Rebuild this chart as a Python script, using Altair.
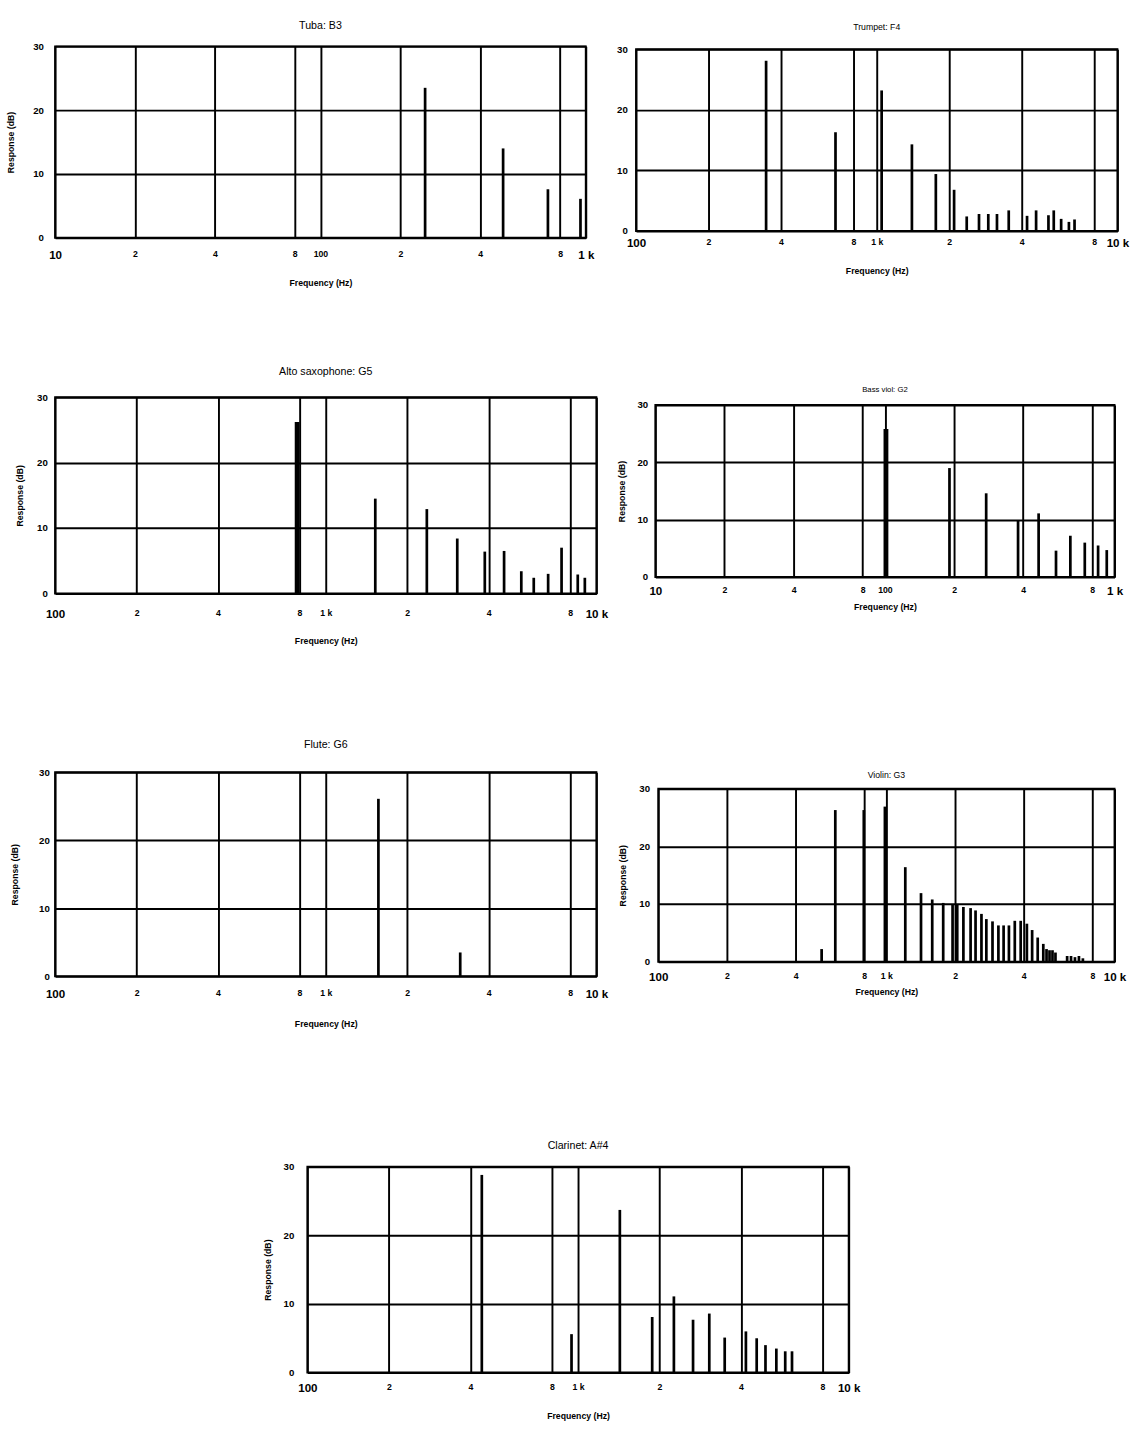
import altair as alt
import pandas as pd

FONT = "Liberation Sans"

LOW_TICKS = [10, 20, 40, 80, 100, 200, 400, 800, 1000]
LOW_LABELS = ["10", "2", "4", "8", "100", "2", "4", "8", "1 k"]
HIGH_TICKS = [100, 200, 400, 800, 1000, 2000, 4000, 8000, 10000]
HIGH_LABELS = ["100", "2", "4", "8", "1 k", "2", "4", "8", "10 k"]
Y_TICKS = [0, 10, 20, 30]

TUBA_TITLE = "Tuba: B3"
TUBA_FREQ = [248, 488, 720, 955]
TUBA_DB = [23.5, 14.0, 7.6, 6.1]

TRUMPET_TITLE = "Trumpet: F4"
TRUMPET_FREQ = [347, 674, 1048, 1400, 1760, 2096, 2365, 2660, 2907, 3159, 3535,
                4212, 4593, 5169, 5438, 5836, 6287, 6634]
TRUMPET_DB = [28.1, 16.3, 23.2, 14.3, 9.4, 6.8, 2.4, 2.8, 2.8, 2.8, 3.4,
              2.5, 3.4, 2.6, 3.4, 2.0, 1.5, 1.9]

SAX_TITLE = "Alto saxophone: G5"
SAX_FREQ = [784, 1524, 2363, 3061, 3869, 4559, 5278, 5868, 6632, 7434, 8532, 9062]
SAX_DB = [26.2, 14.5, 12.9, 8.4, 6.4, 6.5, 3.4, 2.4, 3.0, 7.0, 2.9, 2.4]

BASS_TITLE = "Bass viol: G2"
BASS_FREQ = [101, 191, 276, 380, 467, 556, 642, 742, 848, 925]
BASS_DB = [25.8, 19.0, 14.6, 9.8, 11.1, 4.6, 7.2, 6.0, 5.5, 4.7]

FLUTE_TITLE = "Flute: G6"
FLUTE_FREQ = [1565, 3139]
FLUTE_DB = [26.1, 3.5]

VIOLIN_TITLE = "Violin: G3"
VIOLIN_FREQ = [520, 597, 796, 985, 1210, 1418, 1588, 1774, 1950, 2044, 2175, 2339,
               2459, 2610, 2742, 2918, 3097, 3264, 3444, 3654, 3878, 4128, 4353,
               4605, 4872, 5034, 5188, 5346, 5509, 6198, 6446, 6707, 6982, 7265]
VIOLIN_DB = [2.2, 26.3, 26.3, 26.9, 16.4, 11.9, 10.8, 10.2, 10.0, 9.9, 9.5, 9.3,
             8.9, 8.3, 7.4, 7.0, 6.3, 6.3, 6.3, 7.1, 7.1, 6.6, 5.5,
             4.2, 3.1, 2.2, 2.0, 2.0, 1.6, 1.0, 1.0, 0.8, 1.0, 0.6]

CLAR_TITLE = "Clarinet: A#4"
CLAR_FREQ = [441, 946, 1427, 1879, 2260, 2660, 3054, 3482, 4170, 4571, 4926, 5403,
             5827, 6173]
CLAR_DB = [28.8, 5.6, 23.7, 8.1, 11.1, 7.7, 8.6, 5.1, 6.0, 5.0, 4.0, 3.5, 3.1, 3.1]


def label_expr(ticks, labels):
    expr = "''"
    for t, l in reversed(list(zip(ticks, labels))):
        expr = f"datum.value == {t} ? '{l}' : ({expr})"
    return expr


def panel(title, freqs, dbs, ticks, labels, w, h, title_size, title_offset,
          xlab_pad, xtitle_pad, ylab_pad, ytitle_pad, ytitle=True, thick=False):
    df = pd.DataFrame({"f": freqs, "db": dbs})
    big = f"datum.value == {ticks[0]} || datum.value == {ticks[-1]}"
    x = alt.X(
        "f:Q",
        scale=alt.Scale(type="log", domain=[ticks[0], ticks[-1]], nice=False),
        axis=alt.Axis(
            values=ticks, labelExpr=label_expr(ticks, labels),
            title="Frequency (Hz)", grid=True, ticks=False, domain=False,
            labelOverlap=False, labelFlush=False, labelPadding=xlab_pad,
            titlePadding=xtitle_pad,
            labelFontSize={"condition": {"test": big, "value": 12}, "value": 9},
        ),
    )
    y = alt.Y(
        "db:Q",
        scale=alt.Scale(domain=[0, 30], nice=False),
        axis=alt.Axis(
            values=Y_TICKS, title="Response (dB)" if ytitle else None, grid=True,
            ticks=False, domain=False, labelPadding=ylab_pad, titlePadding=ytitle_pad,
        ),
    )
    if thick:
        sw = alt.condition(alt.datum.db > 25, alt.value(5), alt.value(2.8))
    else:
        sw = alt.value(2.8)
    return alt.Chart(df).mark_rule(color="black").encode(
        x=x, y=y, y2=alt.datum(0), strokeWidth=sw
    ).properties(
        width=w, height=h,
        title=alt.TitleParams(title, fontSize=title_size, fontWeight="normal",
                              font=FONT, offset=title_offset),
    )


def spacer(w, h):
    return alt.Chart(pd.DataFrame({"v": [0]})).mark_point(size=0, opacity=0).encode(
        x=alt.value(0), y=alt.value(0)
    ).properties(width=w, height=h, view=alt.ViewBackground(stroke="transparent"))


def col(top, chart):
    return alt.vconcat(spacer(1, top), chart, spacing=0)


tuba = panel(TUBA_TITLE, TUBA_FREQ, TUBA_DB, LOW_TICKS, LOW_LABELS, 549, 198,
             11, 11, 12, 19, 12, 18)
trumpet = panel(TRUMPET_TITLE, TRUMPET_FREQ, TRUMPET_DB, HIGH_TICKS, HIGH_LABELS,
                498, 188, 9, 13, 7, 19, 9, 12, ytitle=False)
sax = panel(SAX_TITLE, SAX_FREQ, SAX_DB, HIGH_TICKS, HIGH_LABELS, 560, 203,
            11, 16, 16, 18, 8, 13, thick=True)
bass = panel(BASS_TITLE, BASS_FREQ, BASS_DB, LOW_TICKS, LOW_LABELS, 475, 178,
             8, 6, 9, 7, 8, 11, thick=True)
flute = panel(FLUTE_TITLE, FLUTE_FREQ, FLUTE_DB, HIGH_TICKS, HIGH_LABELS, 560, 211,
              11, 18, 13, 21, 6, 20)
violin = panel(VIOLIN_TITLE, VIOLIN_FREQ, VIOLIN_DB, HIGH_TICKS, HIGH_LABELS, 472, 179,
               9, 4, 10, 6, 9, 12)
clar = panel(CLAR_TITLE, CLAR_FREQ, CLAR_DB, HIGH_TICKS, HIGH_LABELS, 560, 213,
             11, 11, 11, 19, 14, 11)

row1 = alt.hconcat(col(1, tuba), col(4, trumpet), spacing=20)
row2 = alt.hconcat(col(1, sax), col(22, bass), spacing=7)
row3 = alt.hconcat(col(1, flute), col(34, violin), spacing=8)
row4 = alt.hconcat(spacer(213, 10), clar, spacing=0)

chart = alt.vconcat(
    alt.vconcat(alt.vconcat(row1, row2, spacing=77), row3, spacing=92),
    row4, spacing=114,
).properties(
    padding={"left": 5, "top": -8, "right": 0, "bottom": 0},
    background="white",
).configure(font=FONT).configure_view(
    stroke="black", strokeWidth=2
).configure_axis(
    gridColor="black", gridWidth=2, gridOpacity=1,
    labelColor="black", titleColor="black", labelFont=FONT, titleFont=FONT,
    labelFontWeight="bold", titleFontWeight="bold", titleFontSize=9,
    labelFontSize=10,
).configure_title(color="black")

chart.save("out.html", embed_options={"renderer": "svg", "actions": False})
